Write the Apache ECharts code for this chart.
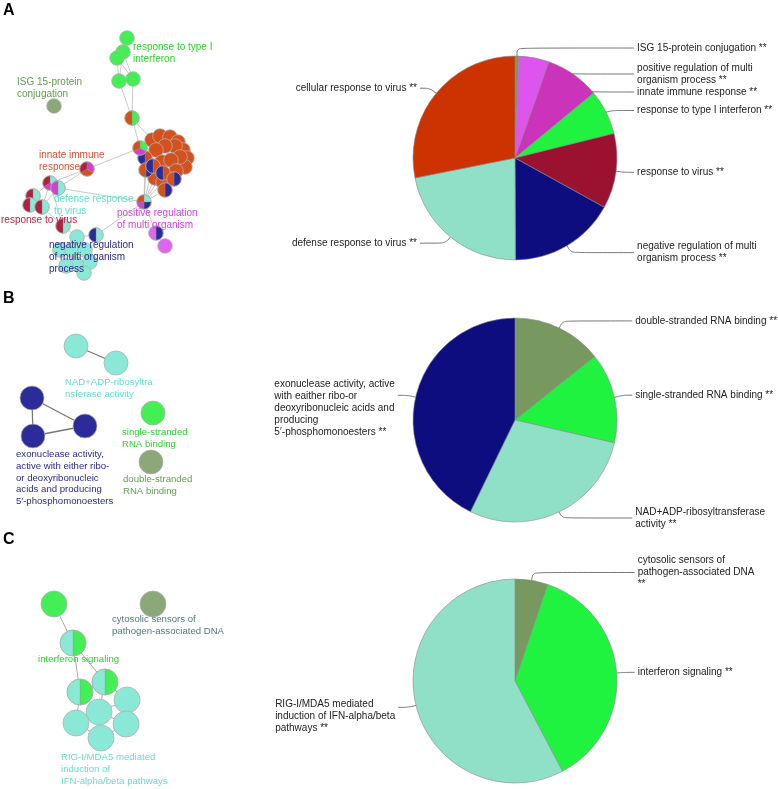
<!DOCTYPE html>
<html><head><meta charset="utf-8">
<script src="https://cdn.jsdelivr.net/npm/echarts@6/dist/echarts.min.js"></script>
<style>html,body{margin:0;padding:0;background:#fff}#c{width:778px;height:789px}</style>
</head><body><div id="c"></div>
<script>
// ---------------- DATA ----------------
// Pie A (share of terms per group, %)
const pieA_labels = ['ISG 15-protein conjugation **', 'positive regulation of multi\norganism process **', 'innate immune response **', 'response to type I interferon **', 'response to virus **', 'negative regulation of multi\norganism process **', 'defense response to virus **', 'cellular response to virus **'];
const pieA_values = [0.6, 4.8, 8.6, 7.1, 11.9, 16.9, 21.9, 28.1];
const pieA_groups = ['olive', 'lilac', 'magenta', 'green', 'darkred', 'navy', 'aqua', 'orange'];

// Pie B
const pieB_labels = ['double-stranded RNA binding **', 'single-stranded RNA binding **', 'NAD+ADP-ribosyltransferase\nactivity **', 'exonuclease activity, active\nwith eaither ribo-or\ndeoxyribonucleic acids and\nproducing\n5\u2032-phosphomonoesters **'];
const pieB_values = [14.3, 14.3, 28.6, 42.8];
const pieB_groups = ['olive', 'green', 'aqua', 'navy'];

// Pie C
const pieC_labels = ['cytosolic sensors of\npathogen-associated DNA\n**', 'interferon signaling **', 'RIG-I/MDA5 mediated\ninduction of IFN-alpha/beta\npathways **'];
const pieC_values = [5.2, 37.1, 57.7];
const pieC_groups = ['olive', 'green', 'aqua'];

// Network A: nodes [x, y, [groups]] in layout units
const netA_nodes = [
  [127,38,['green']], [123,52,['green']], [117,58,['green']], [119,81,['green']], [133,79,['green']],
  [54,106,['olive']],
  [132,118,['green','orange']],
  [152,140,['orange']], [160,136,['orange']], [170,137,['orange']], [178,142,['orange']], [183,150,['orange']],
  [187,158,['orange']], [185,167,['orange']], [175,146,['orange']], [165,146,['orange']], [156,150,['orange']],
  [180,157,['orange']], [162,162,['orange']], [171,160,['orange']], [176,171,['orange']], [155,178,['orange']],
  [163,182,['orange']], [145,158,['orange','navy']], [146,170,['navy','orange']], [153,166,['orange','navy']],
  [163,173,['orange','navy']], [174,179,['navy','orange']], [165,190,['navy','orange']],
  [140,148,['green','magenta','orange']],
  [87,169,['magenta','orange','darkred']],
  [50,183,['aqua','magenta','darkred']], [58,188,['aqua','magenta']], [33,196,['aqua','darkred']],
  [30,205,['aqua','darkred']], [42,207,['aqua','darkred']], [63,226,['aqua','darkred']],
  [144,202,['aqua','navy','magenta','orange']], [156,233,['navy','lilac']], [165,246,['lilac']],
  [77,237,['aqua']], [60,250,['aqua']], [72,250,['aqua']], [85,250,['aqua']], [90,262,['aqua']],
  [76,264,['aqua']], [66,266,['aqua']], [84,273,['aqua']], [96,235,['aqua','navy']]
];
const netA_edges = [[0,1],[1,2],[1,3],[2,3],[1,4],[2,4],[3,6],[4,6],[6,29],[6,7],[29,7],[29,23],
  [29,30],[30,31],[30,32],[31,33],[31,35],[32,35],[33,34],[34,35],[35,36],[31,36],
  [37,24],[37,25],[37,26],[37,21],[37,22],[37,28],[37,23],[37,32],[37,48],[37,38],[38,39],
  [36,40],[48,40],[40,41],[40,42],[42,43],[43,44],[44,45],[45,46],[41,46],[46,47]];
const netA_texts = [
  [133,41,'response to type I\ninterferon','green'],
  [17,76,'ISG 15-protein\nconjugation','olive'],
  [39,149,'innate immune\nresponse','orange'],
  [54,193,'defense response\nto virus','aqua'],
  [1,214,'response to virus','darkred'],
  [117,207,'positive regulation\nof multi organism','magenta'],
  [49,239,'negative regulation\nof multi organism\nprocess','navy']
];

// Network B
const netB_nodes = [[76,66,['aqua']], [116,83,['aqua']], [32,118,['navy']], [33,156,['navy']], [85,146,['navy']], [153,133,['green']], [151,182,['olive']]];
const netB_edges = [[0,1],[2,3],[2,4],[3,4]];
const netB_texts = [
  [65,97,'NAD+ADP-ribosyltra\nnsferase activity','aqua'],
  [122,147,'single-stranded\nRNA binding','green'],
  [123,194,'double-stranded\nRNA binding','olive'],
  [16,169,'exonuclease activity,\nactive with either ribo-\nor deoxyribonucleic\nacids and producing\n5\u2032-phosphomonoesters','navy']
];

// Network C
const netC_nodes = [[54,74,['green']], [73,113,['green','aqua']], [80,162,['green','aqua']], [105,152,['green','aqua']],
  [127,170,['aqua']], [99,182,['aqua']], [126,194,['aqua']], [76,193,['aqua']], [101,208,['aqua']], [153,74,['olive']]];
const netC_edges = [[0,1],[1,2],[1,3],[2,3],[2,5],[2,7],[3,4],[3,5],[5,7],[5,6],[5,8],[4,6],[6,8],[7,8],[4,5]];
const netC_texts = [
  [38,124,'interferon signaling','green'],
  [112,84,'cytosolic sensors of\npathogen-associated DNA','slate'],
  [61,222,'RIG-I/MDA5 mediated\ninduction of\nIFN-alpha/beta pathways','aqua']
];

// ---------------- STYLE ----------------
const pieColors = {orange:'#cc3300', aqua:'#90e0c8', navy:'#0d0d80', darkred:'#9a1230', green:'#1ff23f', magenta:'#cc33bb', lilac:'#dd55ee', olive:'#779960'};
const nodeColors = {orange:'#d4501c', aqua:'#8ae8d6', navy:'#2b2b9a', darkred:'#b02040', green:'#44ee55', magenta:'#cc44cc', lilac:'#dd66ee', olive:'#8aa878'};
const textColors = {green:'#33cc33', olive:'#669955', orange:'#cc5533', aqua:'#66ddcc', darkred:'#bb2244', magenta:'#cc44dd', navy:'#2a2a8a', slate:'#557777'};
const FONT = 'Liberation Sans';
// per-slice label tweaks (style only)
const tweaksA = {0:{labelLine:{length:14}}};
const tweaksB = {3:{label:{padding:[26,0,0,0]}}};
const tweaksC = {2:{label:{padding:[18,0,0,0]}}};
// extra vertical spreading of crowded labels (px)
const labelShiftA = {0:6, 1:14, 2:14, 3:2};

const chart = echarts.init(document.getElementById('c'), null, {renderer:'canvas'});

function pieSeries(labels, values, groups, top, height, cy, tweaks, shifts) {
  return {
    type:'pie', left:0, top:top, width:860, height:height,
    center:[515, cy], radius:102, startAngle:90, clockwise:true,
    silent:true, animation:false, avoidLabelOverlap:true,
    itemStyle:{borderColor:'#8a8a8a', borderWidth:0.6},
    data: labels.map((l,i)=>Object.assign({name:l, value:values[i], itemStyle:{color:pieColors[groups[i]]}}, tweaks[i]||{})),
    label:{
      position:'outer', alignTo:'labelLine', distanceToLabelLine:3, overflow:'none',
      formatter: p => p.name.split('\n').map(s=>'{l|'+s+'}').join('\n'),
      rich:{l:{align:'left', fontFamily:FONT, fontSize:10, lineHeight:12, color:'#222'}}
    },
    labelLine:{show:true, length:8, length2:10, smooth:0.35, lineStyle:{color:'#555', width:0.8}},
    labelLayout: (params) => {
      const dy = shifts && shifts[params.dataIndex];
      if (!dy || !params.labelLinePoints) return {};
      const pts = params.labelLinePoints.map(p=>[p[0], p[1]]);
      pts[1][1] += dy; pts[2][1] += dy;
      return {dy: dy, labelLinePoints: pts};
    }
  };
}

function netSeries(nodes, edges, texts, gi, r, edgeStyle) {
  const lines = {
    type:'lines', coordinateSystem:'cartesian2d', xAxisIndex:gi, yAxisIndex:gi, silent:true, animation:false,
    lineStyle:edgeStyle, z:1,
    data: edges.map(e=>({coords:[[nodes[e[0]][0], nodes[e[0]][1]], [nodes[e[1]][0], nodes[e[1]][1]]]}))
  };
  const nodeS = {
    type:'custom', coordinateSystem:'cartesian2d', xAxisIndex:gi, yAxisIndex:gi, silent:true, animation:false, z:2,
    data: nodes.map(n=>[n[0], n[1]]),
    renderItem:(params, api)=>{
      const c = api.coord([api.value(0), api.value(1)]);
      const rad = api.size([r, 0])[0];
      const gs = nodes[params.dataIndex][2];
      const n = gs.length;
      const children = gs.map((g,i)=>({
        type:'sector',
        shape:{cx:c[0], cy:c[1], r:rad, r0:0, startAngle:-Math.PI/2 + i*2*Math.PI/n, endAngle:-Math.PI/2 + (i+1)*2*Math.PI/n, clockwise:true},
        style:{fill:nodeColors[g], stroke: n>1 ? 'rgba(150,150,150,0.6)' : null, lineWidth:0.5}
      }));
      children.push({type:'circle', shape:{cx:c[0], cy:c[1], r:rad}, style:{fill:null, stroke:'#b0b0b0', lineWidth:0.8}});
      return {type:'group', children};
    }
  };
  const textS = {
    type:'custom', coordinateSystem:'cartesian2d', xAxisIndex:gi, yAxisIndex:gi, silent:true, animation:false, z:3,
    data: texts.map(t=>[t[0], t[1]]),
    renderItem:(params, api)=>{
      const c = api.coord([api.value(0), api.value(1)]);
      const t = texts[params.dataIndex];
      return {type:'text', x:c[0], y:c[1], style:{text:t[2], fill:textColors[t[3]], fontFamily:FONT, fontSize:gi===0?10:9.6, lineHeight:gi===0?12:11.6, align:'left', verticalAlign:'top'}};
    }
  };
  return [lines, nodeS, textS];
}

const grids = [{left:0, top:0, width:260, height:280}, {left:0, top:280, width:260, height:250}, {left:0, top:530, width:260, height:259}];
const gridH = [280, 250, 259];

const option = {
  backgroundColor:'#fff',
  animation:false,
  title:[
    {text:'A', left:3, top:3, padding:0, textStyle:{fontFamily:FONT, fontSize:16, fontWeight:'bold', color:'#000'}},
    {text:'B', left:3, top:291, padding:0, textStyle:{fontFamily:FONT, fontSize:16, fontWeight:'bold', color:'#000'}},
    {text:'C', left:3, top:532, padding:0, textStyle:{fontFamily:FONT, fontSize:16, fontWeight:'bold', color:'#000'}}
  ],
  grid: grids,
  xAxis: grids.map((g,i)=>({type:'value', gridIndex:i, min:0, max:260, show:false})),
  yAxis: grids.map((g,i)=>({type:'value', gridIndex:i, min:0, max:gridH[i], inverse:true, show:false})),
  series: [
    ...netSeries(netA_nodes, netA_edges, netA_texts, 0, 7.3, {color:'#bbbbbb', width:0.8, opacity:1}),
    ...netSeries(netB_nodes, netB_edges, netB_texts, 1, 12, {color:'#777777', width:1.3, opacity:1}),
    ...netSeries(netC_nodes, netC_edges, netC_texts, 2, 13, {color:'#aaaaaa', width:1, opacity:1}),
    pieSeries(pieA_labels, pieA_values, pieA_groups, 0, 280, 158, tweaksA, labelShiftA),
    pieSeries(pieB_labels, pieB_values, pieB_groups, 280, 250, 140, tweaksB, null),
    pieSeries(pieC_labels, pieC_values, pieC_groups, 530, 259, 151, tweaksC, null)
  ]
};
chart.setOption(option);
</script></body></html>
